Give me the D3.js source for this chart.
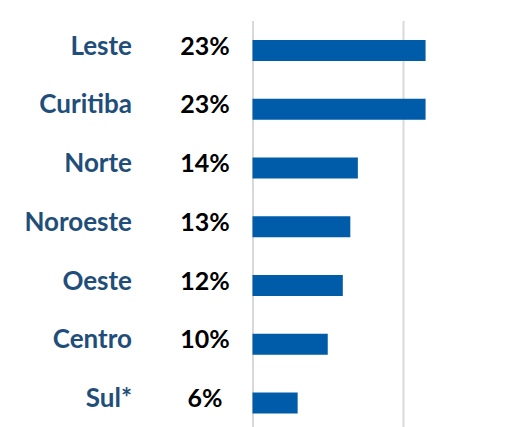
<!DOCTYPE html>
<html>
<head>
<meta charset="utf-8">
<script src="https://cdn.jsdelivr.net/npm/d3@7"></script>
<style>
  body { margin: 0; background: #fff; }
  .name { font-family: Lato, sans-serif; font-weight: 700; fill: #1f4e7a; }
  .pct { font-family: Lato, sans-serif; font-weight: 700; fill: #000; }
  .grid line { stroke: #d9d9d9; stroke-width: 2; }
</style>
</head>
<body>
<div id="chart-area"></div>
<script>
// chart data
let regions = ["Leste", "Curitiba", "Norte", "Noroeste", "Oeste", "Centro", "Sul*"];
let shares = [23, 23, 14, 13, 12, 10, 6];
let gridTicks = [0, 20];

let width = 531,
	height = 427;

let svg = d3.select("#chart-area")
			.append("svg")
			.attr("width", width)
			.attr("height", height);

let xScale = d3.scaleLinear()
			.domain([0, 20])
			.range([252.5, 403]);

let yScale = d3.scalePoint()
			.domain(regions)
			.range([50.5, 403]);

let barH = 21;

// vertical gridlines
let xAxis = d3.axisTop(xScale)
			.tickValues(gridTicks)
			.tickSize(-(height - 21))
			.tickFormat("");

svg.append("g")
	.attr("class", "grid")
	.attr("transform", "translate(0,21)")
	.call(xAxis)
	.call(g => g.select(".domain").remove());

let data = regions.map((r, i) => ({ region: r, value: shares[i] }));

svg.selectAll("rect.bar")
	.data(data)
	.enter()
	.append("rect")
	.attr("class", "bar")
	.attr("x", xScale(0))
	.attr("y", d => yScale(d.region) - barH / 2)
	.attr("width", d => xScale(d.value) - xScale(0))
	.attr("height", barH)
	.attr("fill", "#005ca9");

svg.selectAll("text.name")
	.data(data)
	.enter()
	.append("text")
	.attr("class", "name")
	.attr("x", 132)
	.attr("y", d => yScale(d.region) + 4)
	.attr("text-anchor", "end")
	.attr("font-size", 26)
	.text(d => d.region);

svg.selectAll("text.pct")
	.data(data)
	.enter()
	.append("text")
	.attr("class", "pct")
	.attr("x", 205)
	.attr("y", d => yScale(d.region) + 4)
	.attr("text-anchor", "middle")
	.attr("font-size", 25)
	.text(d => d.value + "%");
</script>
</body>
</html>
